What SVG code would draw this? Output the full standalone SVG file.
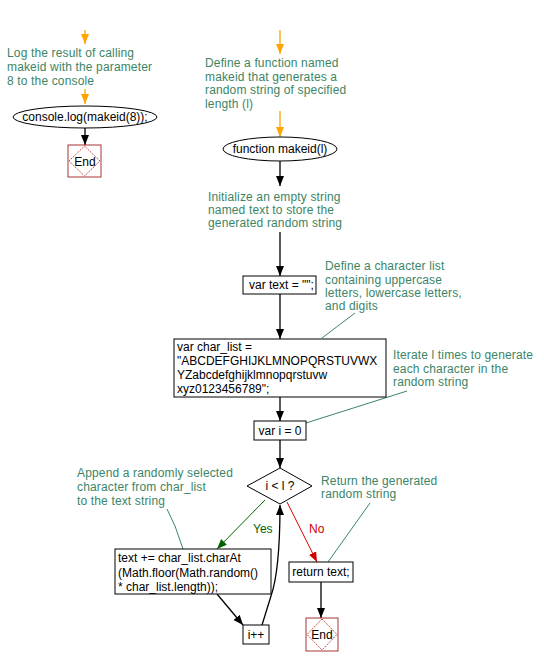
<svg xmlns="http://www.w3.org/2000/svg" width="544" height="665" viewBox="0 0 544 665">
<defs>
<style>
.t{font-family:"Liberation Sans",Arial,sans-serif;font-size:12px;fill:#000}
.a{font-family:"Liberation Sans",Arial,sans-serif;font-size:12px;fill:#3b8566;letter-spacing:0.15px}
.n{fill:#fff;stroke:#000;stroke-width:1}
.c{fill:none;stroke:#000;stroke-width:1.3}
.o{fill:none;stroke:#ffa500;stroke-width:1.3}
.ann{fill:none;stroke:#3b8566;stroke-width:1}
.endbox{fill:#fff;stroke:#a83232;stroke-width:1}
.enddia{fill:none;stroke:#c04040;stroke-width:1;stroke-dasharray:1.5,1}
</style>
<marker id="ab" markerUnits="userSpaceOnUse" markerWidth="12" markerHeight="10" refX="10" refY="4" orient="auto"><path d="M0,0 L10,4 L0,8 z" fill="#000"/></marker>
<marker id="ao" markerUnits="userSpaceOnUse" markerWidth="12" markerHeight="10" refX="10" refY="4" orient="auto"><path d="M0,0 L10,4 L0,8 z" fill="#ffa500"/></marker>
<marker id="ag" markerUnits="userSpaceOnUse" markerWidth="12" markerHeight="10" refX="10" refY="4" orient="auto"><path d="M0,0 L10,4 L0,8 z" fill="#006400"/></marker>
<marker id="ar" markerUnits="userSpaceOnUse" markerWidth="12" markerHeight="10" refX="10" refY="4" orient="auto"><path d="M0,0 L10,4 L0,8 z" fill="#d00000"/></marker>
</defs>
<rect width="544" height="665" fill="#fff"/>

<g id="connectors">
<line class="o" x1="85" y1="30" x2="85" y2="44" marker-end="url(#ao)"/>
<line class="o" x1="85" y1="89" x2="85" y2="104" marker-end="url(#ao)"/>
<line class="c" x1="85" y1="128" x2="85" y2="145" marker-end="url(#ab)"/>
<line class="o" x1="280" y1="30" x2="280" y2="54" marker-end="url(#ao)"/>
<line class="o" x1="280" y1="111" x2="280" y2="137" marker-end="url(#ao)"/>
<line class="c" x1="280" y1="161" x2="280" y2="186" marker-end="url(#ab)"/>
<line class="c" x1="280" y1="232" x2="280" y2="276" marker-end="url(#ab)"/>
<line class="c" x1="280" y1="294" x2="280" y2="339" marker-end="url(#ab)"/>
<line class="c" x1="280" y1="397" x2="280" y2="421" marker-end="url(#ab)"/>
<line class="c" x1="280" y1="440" x2="280" y2="468" marker-end="url(#ab)"/>
<line x1="265" y1="500" x2="217" y2="549" stroke="#006400" stroke-width="1" marker-end="url(#ag)"/>
<line x1="287" y1="502" x2="317" y2="562" stroke="#d00000" stroke-width="1" marker-end="url(#ar)"/>
<line class="c" x1="217" y1="594" x2="243" y2="625" marker-end="url(#ab)"/>
<path class="c" d="M262,625 L271,596 Q280,570 280,505" marker-end="url(#ab)"/>
<line class="c" x1="321" y1="582" x2="321" y2="618" marker-end="url(#ab)"/>
<text class="t" x="253" y="533" style="fill:#006400">Yes</text>
<text class="t" x="309" y="533" style="fill:#d00000">No</text>
<polyline class="ann" points="322,338 355,313"/>
<polyline class="ann" points="306,423 407,391"/>
<polyline class="ann" points="167,509 175,526 183,549"/>
<polyline class="ann" points="370,503 328,562"/>
</g>

<g id="note-log">
<text class="a" x="7" y="57">Log the result of calling</text>
<text class="a" x="7" y="71">makeid with the parameter</text>
<text class="a" x="7" y="85">8 to the console</text>
</g>
<g id="node-console">
<ellipse class="n" cx="85" cy="117" rx="72" ry="11"/>
<text class="t" x="85" y="121" text-anchor="middle">console.log(makeid(8));</text>
</g>
<g id="node-end1">
<rect class="endbox" x="68" y="145" width="33" height="32"/>
<polygon class="enddia" points="84.5,146 100,161 84.5,176 69,161"/>
<text class="t" x="85" y="166" text-anchor="middle">End</text>
</g>

<g id="note-define">
<text class="a" x="205" y="67">Define a function named</text>
<text class="a" x="205" y="80.5">makeid that generates a</text>
<text class="a" x="205" y="94">random string of specified</text>
<text class="a" x="205" y="107.5">length (l)</text>
</g>
<g id="node-function">
<ellipse class="n" cx="280" cy="149" rx="57" ry="12"/>
<text class="t" x="280" y="153" text-anchor="middle">function makeid(l)</text>
</g>
<g id="note-init">
<text class="a" x="208" y="201">Initialize an empty string</text>
<text class="a" x="208" y="214">named text to store the</text>
<text class="a" x="208" y="227">generated random string</text>
</g>
<g id="node-text">
<rect class="n" x="243" y="276" width="73" height="18"/>
<text class="t" x="249" y="289">var text = "";</text>
</g>
<g id="note-charlist">
<text class="a" x="325" y="270">Define a character list</text>
<text class="a" x="325" y="284">containing uppercase</text>
<text class="a" x="325" y="297">letters, lowercase letters,</text>
<text class="a" x="325" y="310">and digits</text>
</g>
<g id="node-charlist">
<rect class="n" x="174" y="339" width="212" height="58"/>
<text class="t" x="177" y="351">var char_list =</text>
<text class="t" x="177" y="365">"ABCDEFGHIJKLMNOPQRSTUVWX</text>
<text class="t" x="177" y="379">YZabcdefghijklmnopqrstuvw</text>
<text class="t" x="177" y="393">xyz0123456789";</text>
</g>
<g id="note-iterate">
<text class="a" x="393" y="359">Iterate l times to generate</text>
<text class="a" x="393" y="373">each character in the</text>
<text class="a" x="393" y="386">random string</text>
</g>
<g id="node-i0">
<rect class="n" x="254" y="421" width="52" height="19"/>
<text class="t" x="280" y="435" text-anchor="middle">var i = 0</text>
</g>
<g id="node-cond">
<polygon class="n" points="280,468 312,486 280,504 247,486"/>
<text class="t" x="280" y="490" text-anchor="middle">i &lt; l ?</text>
</g>
<g id="note-append">
<text class="a" x="77" y="477">Append a randomly selected</text>
<text class="a" x="77" y="491">character from char_list</text>
<text class="a" x="77" y="505">to the text string</text>
</g>
<g id="node-append">
<rect class="n" x="115" y="549" width="156" height="45"/>
<text class="t" x="118" y="562">text += char_list.charAt</text>
<text class="t" x="118" y="577">(Math.floor(Math.random()</text>
<text class="t" x="118" y="591">* char_list.length));</text>
</g>
<g id="node-inc">
<rect class="n" x="243" y="625" width="26" height="19"/>
<text class="t" x="256" y="639" text-anchor="middle">i++</text>
</g>
<g id="note-return">
<text class="a" x="321" y="485">Return the generated</text>
<text class="a" x="321" y="498">random string</text>
</g>
<g id="node-return">
<rect class="n" x="289" y="562" width="64" height="20"/>
<text class="t" x="321" y="576" text-anchor="middle">return text;</text>
</g>
<g id="node-end2">
<rect class="endbox" x="306" y="618" width="32" height="33"/>
<polygon class="enddia" points="322,619 337,634.5 322,650 307,634.5"/>
<text class="t" x="322" y="639" text-anchor="middle">End</text>
</g>
</svg>
